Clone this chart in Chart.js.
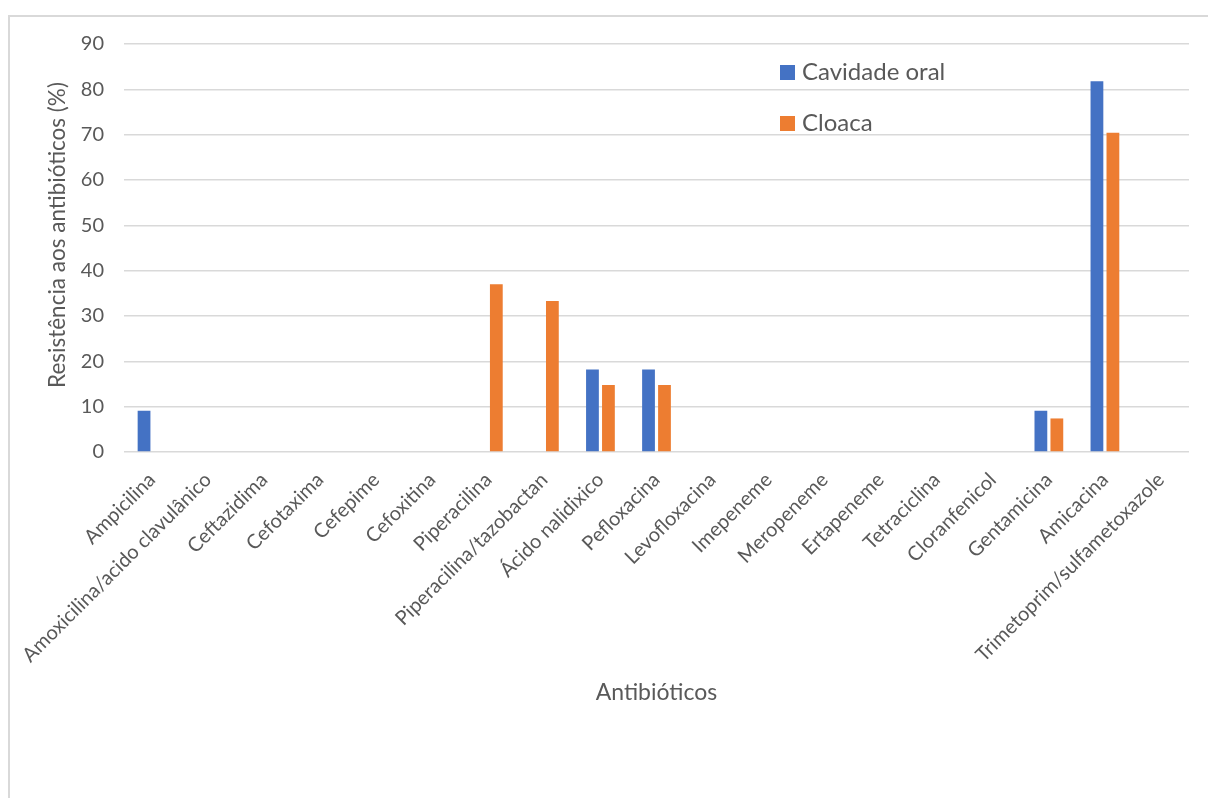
<!DOCTYPE html>
<html>
<head>
<meta charset="utf-8">
<script src="https://cdn.jsdelivr.net/npm/chart.js@4/dist/chart.umd.min.js"></script>
<style>
  html, body { margin: 0; padding: 0; background: #ffffff; overflow: hidden; }
  #frame {
    position: absolute; left: 8px; top: 15px; width: 1220px; height: 800px;
    border-left: 2px solid #d9d9d9; border-top: 2px solid #d9d9d9;
  }
  #wrap { position: absolute; left: 0; top: 0; width: 1208px; height: 798px; }
</style>
</head>
<body>
<div id="frame"></div>
<div id="wrap"><canvas id="chart" width="1208" height="798"></canvas></div>
<script>
// Antibiotics tested
const categories = [
  'Ampicilina', 'Amoxicilina/acido clavulânico', 'Ceftazidima', 'Cefotaxima',
  'Cefepime', 'Cefoxitina', 'Piperacilina', 'Piperacilina/tazobactan',
  'Ácido nalidixico', 'Pefloxacina', 'Levofloxacina', 'Imepeneme',
  'Meropeneme', 'Ertapeneme', 'Tetraciclina', 'Cloranfenicol',
  'Gentamicina', 'Amicacina', 'Trimetoprim/sulfametoxazole'
];

// Resistance (%) by sampling site
const cavidadeOral = [9.1, 0, 0, 0, 0, 0, 0, 0, 18.2, 18.2, 0, 0, 0, 0, 0, 0, 9.1, 81.8, 0];
const cloaca       = [0, 0, 0, 0, 0, 0, 37.0, 33.3, 14.8, 14.8, 0, 0, 0, 0, 0, 0, 7.4, 70.4, 0];

const yTicks = [0, 10, 20, 30, 40, 50, 60, 70, 80, 90];
const yTitle = 'Resistência aos antibióticos (%)';

const FONT = 'Lato, "Open Sans", sans-serif';
const TEXT = '#595959';

// Vertical legend drawn inside the plot area
const insideLegend = {
  id: 'insideLegend',
  afterDraw(chart) {
    const { ctx } = chart;
    const x = 780, y0 = 65, step = 51, box = 15;
    ctx.save();
    ctx.font = '24px ' + FONT;
    ctx.textBaseline = 'middle';
    chart.data.datasets.forEach((ds, i) => {
      const y = y0 + i * step;
      ctx.fillStyle = ds.backgroundColor;
      ctx.fillRect(x, y, box, box);
      ctx.fillStyle = TEXT;
      ctx.fillText(ds.label, x + 22, y + box / 2);
    });
    ctx.restore();
  }
};

// Rotated value-axis title
const valueTitle = {
  id: 'valueTitle',
  afterDraw(chart) {
    const { ctx } = chart;
    ctx.save();
    ctx.translate(58, 235);
    ctx.rotate(-Math.PI / 2);
    ctx.font = '22.5px ' + FONT;
    ctx.fillStyle = TEXT;
    ctx.textAlign = 'center';
    ctx.textBaseline = 'middle';
    ctx.fillText(yTitle, 0, 0);
    ctx.restore();
  }
};

new Chart(document.getElementById('chart'), {
  type: 'bar',
  data: {
    labels: categories,
    datasets: [
      { label: 'Cavidade oral', data: cavidadeOral, backgroundColor: '#4472C4' },
      { label: 'Cloaca', data: cloaca, backgroundColor: '#ED7D31' }
    ]
  },
  options: {
    responsive: false,
    animation: false,
    devicePixelRatio: 1,
    categoryPercentage: 0.57,
    barPercentage: 0.8,
    layout: { padding: { top: 44, right: 19, bottom: 86, left: 0 } },
    plugins: { legend: { display: false }, tooltip: { enabled: false } },
    scales: {
      x: {
        grid: { display: false, drawTicks: false },
        border: { display: false },
        ticks: {
          color: TEXT, font: { family: FONT, size: 20 },
          maxRotation: 45, minRotation: 45, autoSkip: false,
          padding: 16
        },
        title: {
          display: true, text: 'Antibióticos', color: TEXT,
          font: { family: FONT, size: 23 }, padding: { top: 0, bottom: 6 }
        },
        afterFit(scale) { scale.height = 260; }
      },
      y: {
        min: 0, max: 90,
        afterBuildTicks(scale) { scale.ticks = yTicks.map(v => ({ value: v })); },
        grid: { color: '#d9d9d9', lineWidth: 1.5, drawTicks: false },
        border: { display: false },
        ticks: { color: TEXT, font: { family: FONT, size: 20 }, padding: 20 },
        afterFit(scale) { scale.width = 124; }
      }
    }
  },
  plugins: [insideLegend, valueTitle]
});
</script>
</body>
</html>
